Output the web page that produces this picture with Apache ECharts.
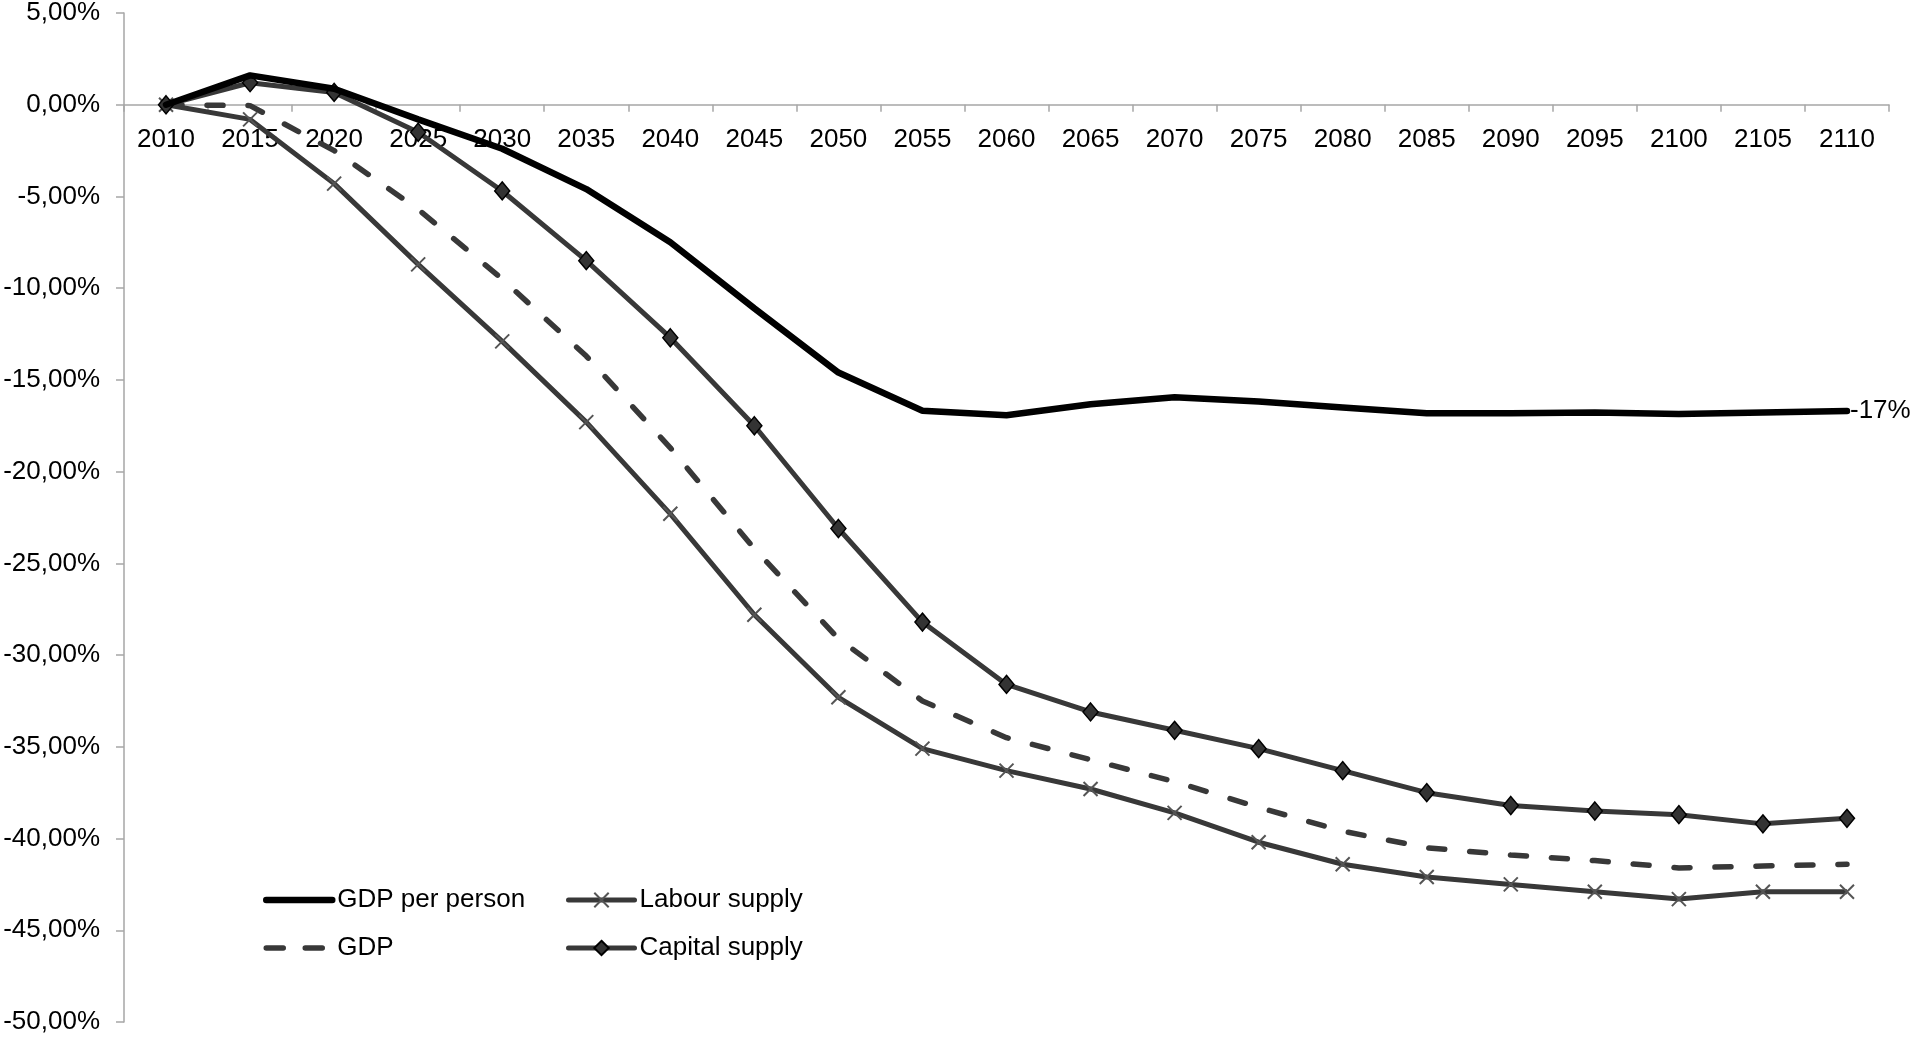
<!DOCTYPE html>
<html>
<head>
<meta charset="utf-8">
<script src="https://cdn.jsdelivr.net/npm/echarts@6/dist/echarts.min.js"></script>
<style>
  html, body { margin: 0; padding: 0; background: #fff; }
  #chart { width: 1910px; height: 1040px; }
</style>
</head>
<body>
<div id="chart"></div>
<script>
// Years on the horizontal axis
const years = ['2010','2015','2020','2025','2030','2035','2040','2045','2050','2055','2060',
               '2065','2070','2075','2080','2085','2090','2095','2100','2105','2110'];

// Percentage change relative to 2010
const gdpPerPerson = [0, 1.6, 0.87, -0.8, -2.4, -4.6, -7.5, -11.1, -14.6, -16.68, -16.93,
                      -16.33, -15.95, -16.18, -16.5, -16.82, -16.82, -16.77, -16.86, -16.77, -16.7];
const labourSupply = [0, -0.8, -4.3, -8.7, -12.9, -17.3, -22.3, -27.8, -32.3, -35.1, -36.3,
                      -37.3, -38.6, -40.2, -41.4, -42.1, -42.5, -42.9, -43.3, -42.9, -42.9];
const gdp          = [0, -0.05, -2.5, -5.7, -9.5, -13.7, -18.7, -24.2, -29.1, -32.5, -34.5,
                      -35.7, -36.9, -38.3, -39.6, -40.5, -40.9, -41.2, -41.6, -41.5, -41.4];
const capitalSupply = [0, 1.2, 0.67, -1.5, -4.7, -8.5, -12.7, -17.5, -23.1, -28.2, -31.6,
                       -33.1, -34.1, -35.1, -36.3, -37.5, -38.2, -38.5, -38.7, -39.2, -38.9];

// Y axis range and step (percent)
const yMin = -50, yMax = 5, yStep = 5;
const endLabelText = '-17%';

const FONT = '"Liberation Sans", Arial, sans-serif';
const AXIS_GREY = '#a6a6a6';
const LINE_GREY = '#383838';

// Plot area
const GRID_TOP = 13, GRID_BOTTOM = 18;
const plotHeight = 1040 - GRID_TOP - GRID_BOTTOM;
// Category axis sits on the zero line, with labels just below it
const zeroOffset = plotHeight * (yMax - 0) / (yMax - yMin);

const chart = echarts.init(document.getElementById('chart'), null, { renderer: 'canvas' });

const legendText = { fontFamily: FONT, fontSize: 26, color: '#000', lineHeight: 26 };

chart.setOption({
  animation: false,
  backgroundColor: '#fff',
  grid: {
    left: 124, right: 21, top: GRID_TOP, bottom: GRID_BOTTOM,
    containLabel: false, outerBoundsMode: 'none'
  },
  legend: [
    {
      data: [
        { name: 'GDP per person', itemStyle: { opacity: 0 },
          lineStyle: { color: '#000', width: 6.5, cap: 'round' } },
        { name: 'GDP', itemStyle: { opacity: 0 },
          lineStyle: { color: LINE_GREY, width: 5.5, type: [17, 22], cap: 'round' } }
      ],
      orient: 'vertical', left: 258, top: 882,
      itemWidth: 66, itemHeight: 18, itemGap: 22,
      textStyle: legendText
    },
    {
      data: [
        { name: 'Labour supply', lineStyle: { color: LINE_GREY, width: 5, cap: 'round' } },
        { name: 'Capital supply', lineStyle: { color: LINE_GREY, width: 5, cap: 'round' } }
      ],
      orient: 'vertical', left: 561, top: 882,
      itemWidth: 66, itemHeight: 18, itemGap: 22,
      textStyle: legendText
    }
  ],
  xAxis: {
    type: 'category',
    data: years,
    boundaryGap: true,
    position: 'top',
    offset: -zeroOffset,
    axisLine: { onZero: false, lineStyle: { color: AXIS_GREY, width: 1.5 } },
    axisTick: { show: true, inside: true, length: 7, lineStyle: { color: AXIS_GREY, width: 1.5 } },
    axisLabel: { inside: true, fontFamily: FONT, fontSize: 26, color: '#000', margin: 22, interval: 0 },
    splitLine: { show: false }
  },
  yAxis: {
    type: 'value',
    min: yMin, max: yMax, interval: yStep,
    axisLine: { show: true, lineStyle: { color: AXIS_GREY, width: 1.5 } },
    axisTick: { show: true, length: 8, lineStyle: { color: AXIS_GREY, width: 1.5 } },
    axisLabel: {
      fontFamily: FONT, fontSize: 26, color: '#000', margin: 24,
      formatter: v => v.toFixed(2).replace('.', ',') + '%'
    },
    splitLine: { show: false }
  },
  series: [
    {
      name: 'Labour supply',
      type: 'line',
      data: labourSupply,
      symbol: 'path://M0,0L10,10M10,0L0,10',
      symbolSize: 14,
      showAllSymbol: true,
      lineStyle: { color: LINE_GREY, width: 5 },
      itemStyle: { color: 'rgba(0,0,0,0)', borderColor: '#555', borderWidth: 2 },
      z: 2
    },
    {
      name: 'GDP',
      type: 'line',
      data: gdp,
      showSymbol: false,
      symbol: 'none',
      lineStyle: { color: LINE_GREY, width: 5.5, type: [16, 25], cap: 'round' },
      itemStyle: { color: LINE_GREY },
      z: 2
    },
    {
      name: 'Capital supply',
      type: 'line',
      data: capitalSupply,
      symbol: 'diamond',
      symbolSize: [15, 18],
      showAllSymbol: true,
      lineStyle: { color: LINE_GREY, width: 5 },
      itemStyle: { color: '#333', borderColor: '#000', borderWidth: 1.5 },
      z: 3
    },
    {
      name: 'GDP per person',
      type: 'line',
      data: gdpPerPerson,
      showSymbol: false,
      symbol: 'none',
      lineStyle: { color: '#000', width: 6.5, cap: 'round' },
      itemStyle: { color: '#000' },
      endLabel: {
        show: true,
        formatter: () => endLabelText,
        fontFamily: FONT, fontSize: 26, color: '#000', distance: 3
      },
      z: 4
    }
  ]
});
</script>
</body>
</html>
